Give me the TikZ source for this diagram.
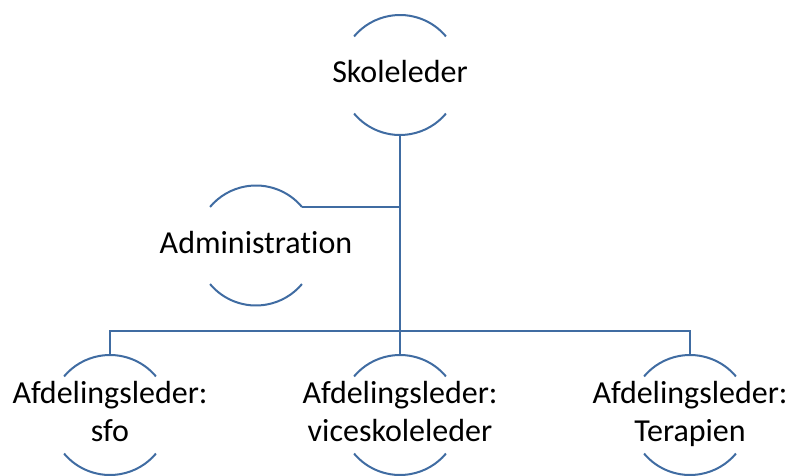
\documentclass[tikz,border=0pt]{standalone}
\usepackage{fontspec}
\setmainfont{Carlito}[Ligatures=NoCommon]
\definecolor{linecol}{RGB}{64,108,162}
\newcommand\ctext[1]{\raisebox{-2.5pt}{\makebox[0pt]{\begin{tabular}{@{}c@{}}#1\end{tabular}}}}
\begin{document}
\begin{tikzpicture}[x=1pt,y=1pt,
  circ/.style={shape=circle,minimum size=120pt,inner sep=0pt,outer sep=0pt,
    font=\fontsize{32}{37.5}\selectfont},
  ln/.style={draw=linecol,line width=2pt}]
\useasboundingbox (0,0) rectangle (792,475);
\node[circ] (sk) at (400,400) {\ctext{Skoleleder}};
\node[circ] (adm) at (256,229.5) {\ctext{Administration}};
\node[circ] (sfo) at (110,60) {\ctext{Afdelingsleder:\\sfo}};
\node[circ] (vice) at (400,60) {\ctext{Afdelingsleder:\\viceskoleleder}};
\node[circ] (ter) at (690,60) {\ctext{Afdelingsleder:\\Terapien}};
\coordinate (bar) at (400,144);
\foreach \n in {sk,adm,sfo,vice,ter}{
  \draw[ln] (\n.40) arc[start angle=40,end angle=140,radius=60];
  \draw[ln] (\n.220) arc[start angle=220,end angle=320,radius=60];
}
\draw[ln] (sk.south) -- (sk.south |- bar);
\draw[ln] (adm.40) -- (adm.40 -| sk.south);
\draw[ln] (sfo.north) |- (bar) -| (ter.north);
\draw[ln] (vice.north) -- (bar);
\end{tikzpicture}
\end{document}
